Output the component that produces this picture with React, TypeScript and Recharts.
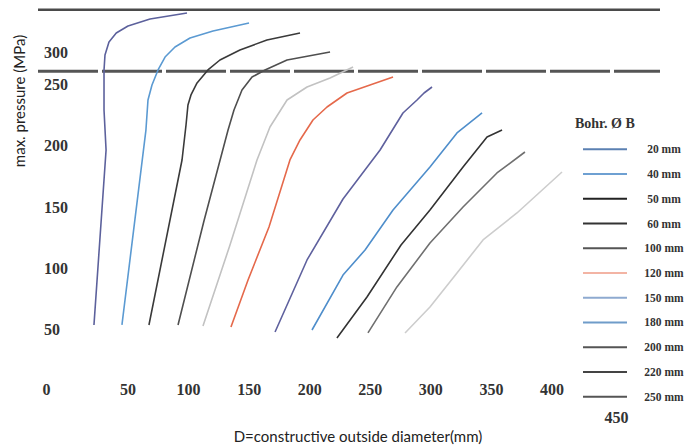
import React from 'react';
import { LineChart, Line, XAxis, YAxis, ReferenceLine, Legend, Label } from 'recharts';

// Bore diameters (series names)
const boreLabels = ['20 mm', '40 mm', '50 mm', '60 mm', '100 mm', '120 mm', '150 mm', '180 mm', '200 mm', '220 mm', '250 mm'];

// D = constructive outside diameter (mm) and max. pressure (MPa) per bore
const d20 = [21.9, 31.9, 30.2, 30.2, 31.0, 34.3, 40.3, 50.0, 68.2, 98.7];
const p20 = [54.1, 196.7, 229.3, 261.9, 274.2, 284.8, 292.1, 297.8, 303.5, 308.4];
const d40 = [45.0, 64.8, 66.5, 69.8, 74.8, 80.6, 88.8, 101.2, 120.2, 149.9];
const p40 = [54.1, 213.0, 237.5, 249.7, 262.0, 272.5, 280.7, 288.0, 293.7, 300.3];
const d50 = [67.3, 94.6, 97.9, 99.5, 102.0, 107.0, 116.0, 125.9, 142.4, 164.7, 192.0];
const p50 = [54.1, 188.6, 217.1, 233.4, 241.6, 251.4, 262.0, 270.1, 278.3, 286.4, 292.1];
const d60 = [91.3, 112.7, 132.6, 137.5, 144.1, 152.4, 163.1, 181.3, 216.8];
const p60 = [54.1, 138.9, 213.0, 229.3, 245.6, 256.2, 262.0, 270.1, 276.6];
const d100 = [111.9, 134.2, 156.5, 167.2, 181.3, 197.8, 216.8, 235.8];
const p100 = [53.3, 119.3, 188.6, 215.5, 237.5, 248.1, 255.4, 264.4];
const d120 = [135.0, 149.1, 166.4, 183.7, 192.0, 202.7, 214.3, 230.8, 249.8, 268.8];
const p120 = [52.4, 90.8, 134.0, 188.6, 204.9, 221.2, 231.8, 243.2, 249.7, 256.2];
const d150 = [171.4, 197.8, 227.5, 258.1, 277.0, 288.6, 294.4, 301.0];
const p150 = [48.4, 107.1, 156.8, 196.7, 226.9, 237.5, 243.2, 248.1];
const d180 = [201.9, 227.5, 245.7, 268.8, 299.3, 321.6, 342.3];
const p180 = [50.0, 94.8, 115.2, 147.8, 182.9, 210.6, 226.9];
const d200 = [222.5, 247.3, 275.4, 299.3, 326.6, 346.4, 358.8];
const p200 = [43.5, 76.9, 119.3, 147.8, 182.9, 207.3, 213.0];
const d220 = [248.1, 272.0, 299.3, 326.6, 354.6, 377.7];
const p220 = [47.6, 85.1, 120.9, 150.3, 178.0, 195.1];
const d250 = [278.7, 299.3, 321.6, 343.1, 371.1, 408.3];
const p250 = [47.6, 68.7, 96.5, 123.4, 145.4, 178.8];

const xTicks = [0, 50, 100, 150, 200, 250, 300, 350, 400, 450];
const yTicks = [50, 100, 150, 200, 250, 300];
const topLimit = 311;
const dashedLimit = 261;

const lineColors = ['#5c619c', '#5b9ad2', '#3a3a3a', '#4f4f4f', '#c2c2c2', '#e5694b', '#5f619e', '#4f8ecb', '#333333', '#707070', '#cdcdcd'];
const legendColors = ['#5b80b2', '#6ea0d2', '#222222', '#333333', '#555555', '#f3b4a4', '#8eaad0', '#6f9cc9', '#555555', '#444444', '#555555'];

const seriesD = [d20, d40, d50, d60, d100, d120, d150, d180, d200, d220, d250];
const seriesP = [p20, p40, p50, p60, p100, p120, p150, p180, p200, p220, p250];

const series = boreLabels.map((name, i) => ({
  name,
  color: lineColors[i],
  data: seriesD[i].map((d, j) => ({ d, p: seriesP[i][j] })),
}));

const serif = "'Liberation Serif', 'Times New Roman', serif";
const sans = "Lato, 'Open Sans', sans-serif";

const xShift: Record<number, { dx: number; dy: number }> = {
  0: { dx: -21, dy: 0 },
  450: { dx: 4, dy: 28 },
};
const yShift: Record<number, number> = { 300: 28.7 };

function XTick(props: any) {
  const { x, y, payload } = props;
  const s = xShift[payload.value] || { dx: 0, dy: 0 };
  return (
    <text x={x + s.dx} y={y + 23 + s.dy} textAnchor="middle" dominantBaseline="central"
      fontFamily={serif} fontWeight="bold" fontSize={16} fill="#333">
      {payload.value}
    </text>
  );
}

function YTick(props: any) {
  const { x, y, payload } = props;
  const dy = yShift[payload.value] || 0;
  return (
    <text x={x + 6} y={y + dy} textAnchor="start" dominantBaseline="central"
      fontFamily={serif} fontWeight="bold" fontSize={16} fill="#333">
      {payload.value}
    </text>
  );
}

function LegendBox() {
  return (
    <svg width={130} height={310} style={{ display: 'block' }}>
      <text x={7} y={15} dominantBaseline="central" fontFamily={serif} fontWeight="bold" fontSize={14} fill="#333">
        Bohr. Ø B
      </text>
      {boreLabels.map((name, i) => (
        <g key={name}>
          <line x1={15} x2={59} y1={41.3 + i * 24.74} y2={41.3 + i * 24.74} stroke={legendColors[i]} strokeWidth={2} />
          <text x={96} y={41.3 + i * 24.74} textAnchor="middle" dominantBaseline="central"
            fontFamily={serif} fontWeight="bold" fontSize={11.5} fill="#333">
            {name}
          </text>
        </g>
      ))}
    </svg>
  );
}

export default function App() {
  return (
    <div style={{ width: 690, height: 439 }}>
      <LineChart width={690} height={439} margin={{ top: 1.83, right: 38, left: 0, bottom: 0 }}>
        <XAxis type="number" dataKey="d" domain={[-24.3, 489.2]} ticks={xTicks} allowDataOverflow
          axisLine={false} tickLine={false} tickSize={0} tickMargin={0} height={80.2} tick={<XTick />} interval={0}>
          <Label content={() => (
            <text x={350} y={428} textAnchor="middle" dominantBaseline="central" fontFamily={sans} fontSize={15} fill="#222">
              D=constructive outside diameter(mm)
            </text>
          )} />
        </XAxis>
        <YAxis type="number" domain={[20, topLimit]} ticks={yTicks} allowDataOverflow width={30}
          axisLine={false} tickLine={false} tickSize={0} tickMargin={0} tick={<YTick />} interval={0}>
          <Label content={() => (
            <text x={11} y={93} transform="rotate(-90 11 93)" textAnchor="middle" dominantBaseline="central" fontFamily={sans} fontSize={15} fill="#222">
              max. pressure (MPa)
            </text>
          )} />
        </YAxis>
        <ReferenceLine y={topLimit} stroke="#4a4a4a" strokeWidth={2.5} />
        <ReferenceLine y={dashedLimit} stroke="#555" strokeWidth={3} strokeDasharray="60 4" />
        {series.map((s) => (
          <Line key={s.name} name={s.name} data={s.data} dataKey="p" type="linear" stroke={s.color}
            strokeWidth={1.6} strokeLinejoin="round" dot={false} activeDot={false} isAnimationActive={false} />
        ))}
        <Legend layout="horizontal" verticalAlign="middle" align="center"
          wrapperStyle={{ position: 'absolute', left: 560, top: 100, width: 130, height: 310 }}
          content={() => <LegendBox />} />
      </LineChart>
    </div>
  );
}
